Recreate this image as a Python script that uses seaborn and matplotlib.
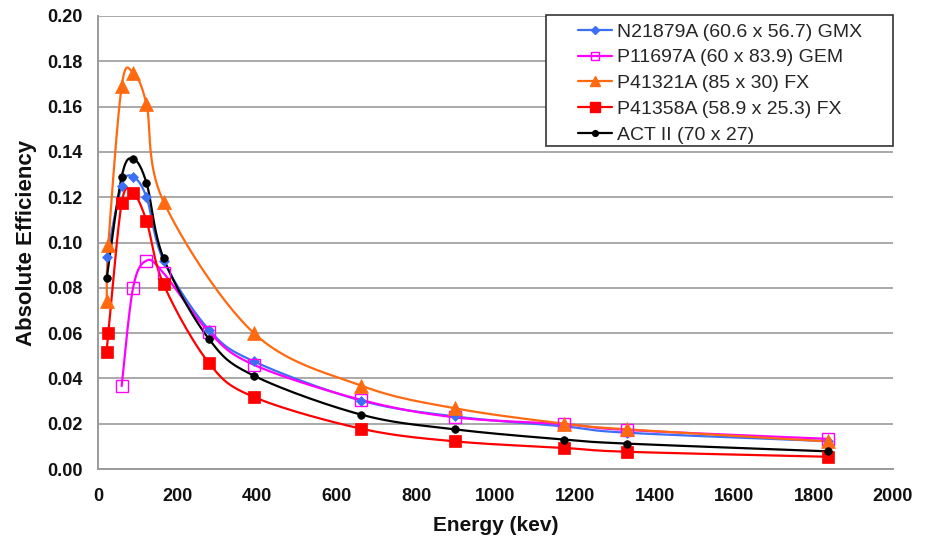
import numpy as np
import pandas as pd
import matplotlib
matplotlib.use("Agg")
import matplotlib.pyplot as plt
from matplotlib.patches import Rectangle
from matplotlib.lines import Line2D
import seaborn as sns

# ---------------- data ----------------
labels = [
    "N21879A (60.6 x 56.7) GMX",
    "P11697A (60 x 83.9) GEM",
    "P41321A (85 x 30) FX",
    "P41358A (58.9 x 25.3) FX",
    "ACT II (70 x 27)",
]

e_n21879a = [22, 59.5, 88, 122, 165, 279, 392, 662, 898, 1173, 1332, 1836]
v_n21879a = [0.0936, 0.125, 0.129, 0.120, 0.092, 0.0615, 0.0475, 0.0302, 0.0232, 0.0188, 0.0160, 0.0123]

e_p11697a = [59.5, 88, 122, 165, 279, 392, 662, 898, 1173, 1332, 1836]
v_p11697a = [0.0366, 0.0798, 0.0920, 0.0865, 0.0605, 0.0460, 0.0305, 0.0228, 0.0198, 0.0172, 0.0133]

e_p41321a = [22, 26, 59.5, 88, 122, 165, 392, 662, 898, 1173, 1332, 1836]
v_p41321a = [0.074, 0.099, 0.169, 0.175, 0.161, 0.118, 0.060, 0.0368, 0.0268, 0.0200, 0.0175, 0.0122]

e_p41358a = [22, 26, 59.5, 88, 122, 165, 279, 392, 662, 898, 1173, 1332, 1836]
v_p41358a = [0.0515, 0.060, 0.1174, 0.122, 0.1095, 0.0815, 0.0468, 0.0318, 0.0178, 0.0122, 0.0093, 0.0076, 0.0054]

e_act2 = [22, 59.5, 88, 122, 165, 279, 392, 662, 898, 1173, 1332, 1836]
v_act2 = [0.0843, 0.129, 0.137, 0.1263, 0.093, 0.0574, 0.0412, 0.0240, 0.0175, 0.0130, 0.0112, 0.0078]

x_ticks = list(range(0, 2001, 200))
y_ticks = [0.00, 0.02, 0.04, 0.06, 0.08, 0.10, 0.12, 0.14, 0.16, 0.18, 0.20]

# ---------------- style ----------------
sns.set_style("white")
plt.rcParams["font.family"] = ["Liberation Sans", "DejaVu Sans"]

series = [
    (e_n21879a, v_n21879a, "#3d6ff5", "D", 5.5, "#3d6ff5"),
    (e_p11697a, v_p11697a, "#ff00ff", "s", 8.5, "none"),
    (e_p41321a, v_p41321a, "#ff6a10", "^", 10.0, "#ff6a10"),
    (e_p41358a, v_p41358a, "#ff0000", "s", 9.0, "#ff0000"),
    (e_act2, v_act2, "#000000", "o", 5.5, "#000000"),
]

X_SPAN, Y_SPAN = 795.0 / 2000.0, 453.0 / 0.2


def smooth_curve(xs, ys, n=24):
    """Catmull-Rom rendering of the polyline (like a spreadsheet 'smoothed line')."""
    P = np.column_stack([np.asarray(xs, float) * X_SPAN, np.asarray(ys, float) * Y_SPAN])
    P = np.vstack([P[0], P, P[-1]])
    pts = []
    t = np.linspace(0, 1, n, endpoint=False)[:, None]
    for i in range(1, len(P) - 2):
        p0, p1, p2, p3 = P[i - 1], P[i], P[i + 1], P[i + 2]
        seg = 0.5 * ((2 * p1) + (-p0 + p2) * t + (2 * p0 - 5 * p1 + 4 * p2 - p3) * t ** 2
                     + (-p0 + 3 * p1 - 3 * p2 + p3) * t ** 3)
        pts.append(seg)
    pts.append(P[-2][None, :])
    pts = np.vstack(pts)
    return pts[:, 0] / X_SPAN, pts[:, 1] / Y_SPAN


fig = plt.figure(figsize=(9.3, 5.45), dpi=100)
ax = fig.add_axes([98 / 930, 1 - 469 / 545, 795 / 930, 453 / 545])

for (ex, vy, col, mk, ms, mfc), lab in zip(series, labels):
    sx, sy = smooth_curve(ex, vy)
    curve = pd.DataFrame({"Energy": sx, "Eff": sy})
    sns.lineplot(data=curve, x="Energy", y="Eff", sort=False, color=col, lw=1.6,
                 ax=ax, legend=False, zorder=3)
    pts = pd.DataFrame({"Energy": ex, "Eff": vy})
    ax.plot(pts["Energy"], pts["Eff"], ls="none", marker=mk, ms=ms, mfc=mfc,
            mec=col, mew=1.0 if mfc == "none" else 0.5, zorder=4)

ax.set_xlim(0, 2000)
ax.set_ylim(0, 0.20)
ax.set_xticks(x_ticks)
ax.set_yticks(y_ticks)
ax.set_yticklabels([f"{v:.2f}" for v in y_ticks])
ax.tick_params(axis="x", which="major", labelsize=13, direction="out",
               length=3.6, width=1.0, color="#8c8c8c", pad=10, labelcolor="#111111")
ax.tick_params(axis="y", which="major", labelsize=13, direction="out",
               length=4.3, width=1.0, color="#8c8c8c", pad=7, labelcolor="#111111")
for lab in ax.get_xticklabels() + ax.get_yticklabels():
    lab.set_fontweight("bold")

ax.grid(axis="y", color="#a9a9a9", lw=1.4)
ax.grid(axis="x", visible=False)
ax.set_axisbelow(True)
for side in ["top", "right"]:
    ax.spines[side].set_visible(False)
for side in ["left", "bottom"]:
    ax.spines[side].set_color("#9a9a9a")
    ax.spines[side].set_linewidth(1.4)

ax.set_xlabel("Energy (kev)", fontsize=15, fontweight="bold", labelpad=8, color="#111111")
ax.set_ylabel("Absolute Efficiency", fontsize=16, fontweight="bold", labelpad=7, color="#111111")

# legend box
x0 = (546 - 98) / 795
y0 = (469 - 146) / 453
box = Rectangle((x0, y0), 1.0 - x0, 1.002 - y0, transform=ax.transAxes,
                facecolor="white", edgecolor="#333333", lw=1.2, zorder=10, clip_on=False)
ax.add_patch(box)

handles = []
for (ex, vy, col, mk, ms, mfc) in series:
    handles.append(Line2D([], [], color=col, lw=1.6, marker=mk,
                          ms=ms * 0.75, mfc=mfc, mec=col, mew=1.0))
leg = ax.legend(handles, labels, loc="upper left",
                bbox_to_anchor=((578 - 98) / 795, (469 - 23) / 453),
                frameon=False, fontsize=14, handlelength=1.75, handletextpad=0.25,
                labelspacing=0.42, borderpad=0.0, borderaxespad=0.0)
leg.set_zorder(11)

fig.savefig("out.png", dpi=100)
